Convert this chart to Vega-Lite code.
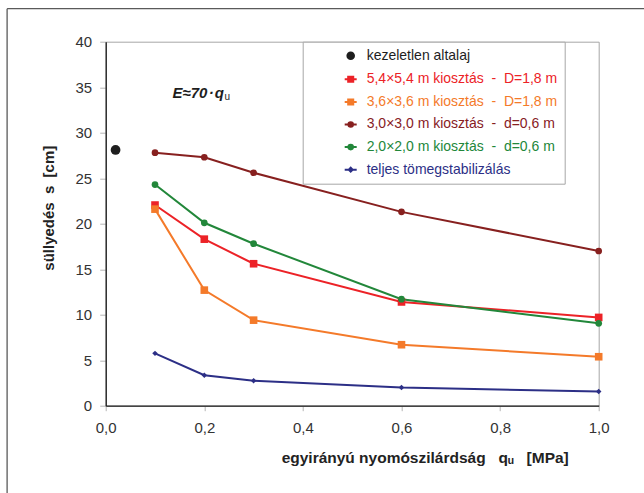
{
  "$schema": "https://vega.github.io/schema/vega-lite/v6.json",
  "width": 493,
  "height": 364,
  "autosize": {"type": "none"},
  "padding": {"left": 105.7, "top": 41.7, "right": 45.3, "bottom": 87},
  "background": "white",
  "config": {
    "font": "Liberation Sans",
    "view": {"stroke": "#a6a6a6", "strokeWidth": 1}
  },
  "layer": [
    {
      "data": {"values": [{}]},
      "mark": {"type": "rule", "color": "#5a5a5a", "strokeWidth": 1.3},
      "encoding": {
        "x": {"datum": -0.2, "type": "quantitative", "scale": {"domain": [0, 1]}},
        "y": {"datum": 43.63, "type": "quantitative", "scale": {"domain": [0, 40]}},
        "y2": {"datum": -12}
      }
    },
    {
      "data": {"values": [{}]},
      "mark": {"type": "rule", "color": "#5a5a5a", "strokeWidth": 1.3},
      "encoding": {
        "x": {"datum": -0.2, "type": "quantitative"},
        "x2": {"datum": 1.3},
        "y": {"datum": 43.63, "type": "quantitative"}
      }
    },
    {
      "data": {
        "values": [
          {"series": "kezeletlen altalaj", "q": 0.02, "s": 28.1},
          {"series": "5,4×5,4 m kiosztás \u00a0-\u00a0 D=1,8 m", "q": 0.1, "s": 22.05},
          {"series": "5,4×5,4 m kiosztás \u00a0-\u00a0 D=1,8 m", "q": 0.2, "s": 18.3},
          {"series": "5,4×5,4 m kiosztás \u00a0-\u00a0 D=1,8 m", "q": 0.3, "s": 15.6},
          {"series": "5,4×5,4 m kiosztás \u00a0-\u00a0 D=1,8 m", "q": 0.6, "s": 11.4},
          {"series": "5,4×5,4 m kiosztás \u00a0-\u00a0 D=1,8 m", "q": 1.0, "s": 9.7},
          {"series": "3,6×3,6 m kiosztás \u00a0-\u00a0 D=1,8 m", "q": 0.1, "s": 21.6},
          {"series": "3,6×3,6 m kiosztás \u00a0-\u00a0 D=1,8 m", "q": 0.2, "s": 12.7},
          {"series": "3,6×3,6 m kiosztás \u00a0-\u00a0 D=1,8 m", "q": 0.3, "s": 9.4},
          {"series": "3,6×3,6 m kiosztás \u00a0-\u00a0 D=1,8 m", "q": 0.6, "s": 6.7},
          {"series": "3,6×3,6 m kiosztás \u00a0-\u00a0 D=1,8 m", "q": 1.0, "s": 5.38},
          {"series": "3,0×3,0 m kiosztás \u00a0-\u00a0 d=0,6 m", "q": 0.1, "s": 27.8},
          {"series": "3,0×3,0 m kiosztás \u00a0-\u00a0 d=0,6 m", "q": 0.2, "s": 27.3},
          {"series": "3,0×3,0 m kiosztás \u00a0-\u00a0 d=0,6 m", "q": 0.3, "s": 25.6},
          {"series": "3,0×3,0 m kiosztás \u00a0-\u00a0 d=0,6 m", "q": 0.6, "s": 21.3},
          {"series": "3,0×3,0 m kiosztás \u00a0-\u00a0 d=0,6 m", "q": 1.0, "s": 17.0},
          {"series": "2,0×2,0 m kiosztás \u00a0-\u00a0 d=0,6 m", "q": 0.1, "s": 24.3},
          {"series": "2,0×2,0 m kiosztás \u00a0-\u00a0 d=0,6 m", "q": 0.2, "s": 20.1},
          {"series": "2,0×2,0 m kiosztás \u00a0-\u00a0 d=0,6 m", "q": 0.3, "s": 17.8},
          {"series": "2,0×2,0 m kiosztás \u00a0-\u00a0 d=0,6 m", "q": 0.6, "s": 11.7},
          {"series": "2,0×2,0 m kiosztás \u00a0-\u00a0 d=0,6 m", "q": 1.0, "s": 9.05},
          {"series": "teljes tömegstabilizálás", "q": 0.1, "s": 5.75},
          {"series": "teljes tömegstabilizálás", "q": 0.2, "s": 3.35},
          {"series": "teljes tömegstabilizálás", "q": 0.3, "s": 2.75},
          {"series": "teljes tömegstabilizálás", "q": 0.6, "s": 2.0},
          {"series": "teljes tömegstabilizálás", "q": 1.0, "s": 1.55}
        ]
      },
      "encoding": {
        "x": {
          "field": "q", "type": "quantitative",
          "scale": {"domain": [0, 1], "nice": false, "zero": true},
          "axis": {
            "values": [0, 0.2, 0.4, 0.6, 0.8, 1],
            "labelExpr": "replace(format(datum.value, '.1f'), '.', ',')",
            "labelFlush": false,
            "title": "egyirányú nyomószilárdság\u00a0\u00a0\u00a0qᵤ\u00a0\u00a0\u00a0[MPa]",
            "titleFontSize": 15.5, "titleFontWeight": "bold", "titleColor": "#222",
            "titleX": 319, "titleY": 57, "titleAlign": "center", "titleBaseline": "alphabetic",
            "gridColor": "#dadada", "gridWidth": 1,
            "domainColor": "#1a1a1a", "domainWidth": 1.3,
            "tickColor": "#b5b5b5", "tickSize": 5,
            "labelFontSize": 15, "labelColor": "#333", "labelPadding": 10,
            "labelFont": "Liberation Sans"
          }
        },
        "y": {
          "field": "s", "type": "quantitative",
          "scale": {"domain": [0, 40], "nice": false},
          "axis": {
            "values": [0, 5, 10, 15, 20, 25, 30, 35, 40],
            "labelFlush": false,
            "title": "süllyedés\u00a0\u00a0s\u00a0\u00a0[cm]",
            "titleFontSize": 15, "titleFontWeight": "bold", "titleColor": "#222",
            "titleX": -52, "titleY": 166, "titleAngle": -90, "titleAlign": "center", "titleBaseline": "alphabetic",
            "gridColor": "#dadada", "gridWidth": 1,
            "domainColor": "#1a1a1a", "domainWidth": 1.3,
            "tickColor": "#b5b5b5", "tickSize": 6,
            "labelFontSize": 15, "labelColor": "#333", "labelPadding": 8,
            "labelFont": "Liberation Sans"
          }
        },
        "color": {
          "field": "series", "type": "nominal",
          "scale": {
            "domain": [
              "kezeletlen altalaj",
              "5,4×5,4 m kiosztás \u00a0-\u00a0 D=1,8 m",
              "3,6×3,6 m kiosztás \u00a0-\u00a0 D=1,8 m",
              "3,0×3,0 m kiosztás \u00a0-\u00a0 d=0,6 m",
              "2,0×2,0 m kiosztás \u00a0-\u00a0 d=0,6 m",
              "teljes tömegstabilizálás"
            ],
            "range": ["#1e1e1e", "#ec2227", "#f47a2a", "#87201f", "#22873a", "#2c2f86"]
          },
          "legend": {
            "orient": "none",
            "legendX": 197,
            "legendY": 0,
            "title": null,
            "padding": 7,
            "fillColor": "white",
            "strokeColor": "#a6a6a6",
            "symbolSize": 144,
            "symbolOffset": 34,
            "labelOffset": 9,
            "rowPadding": 8.6,
            "labelFont": "Liberation Sans",
            "labelFontSize": 14,
            "labelLimit": 400,
            "labelExpr": "datum.label + '\u00a0\u00a0\u00a0\u00a0\u00a0\u00a0\u00a0\u00a0\u00a0'",
            "encode": {
              "symbols": {
                "update": {
                  "shape": {"signal": "datum.index === 0 ? 'M-0.55,0A0.55,0.55,0,1,1,0.55,0A0.55,0.55,0,1,1,-0.55,0Z' : (datum.index === 1 || datum.index === 2) ? 'M-1,0L1,0M-0.42,-0.42L0.42,-0.42L0.42,0.42L-0.42,0.42Z' : datum.index === 5 ? 'M-1,0L1,0M-0.32,0L0,-0.32L0.32,0L0,0.32Z' : 'M-1,0L1,0M-0.38,0A0.38,0.38,0,1,1,0.38,0A0.38,0.38,0,1,1,-0.38,0Z'"},
                  "fill": {"signal": "scale('color', datum.value)"},
                  "stroke": {"signal": "scale('color', datum.value)"},
                  "strokeWidth": {"value": 2},
                  "opacity": {"value": 1}
                }
              },
              "labels": {
                "update": {
                  "fill": {"signal": "scale('color', datum.value)"}
                }
              }
            }
          }
        }
      },
      "layer": [
        {
          "transform": [{"filter": "datum.series !== 'kezeletlen altalaj'"}],
          "mark": {"type": "line", "strokeWidth": 2}
        },
        {
          "transform": [{"filter": "datum.series === 'kezeletlen altalaj'"}],
          "mark": {"type": "point", "filled": true, "opacity": 1, "shape": "circle", "size": 95}
        },
        {
          "transform": [{"filter": "indexof(datum.series, 'D=1,8') >= 0"}],
          "mark": {"type": "point", "filled": true, "opacity": 1, "shape": "square", "size": 58}
        },
        {
          "transform": [{"filter": "indexof(datum.series, 'd=0,6') >= 0"}],
          "mark": {"type": "point", "filled": true, "opacity": 1, "shape": "circle", "size": 45}
        },
        {
          "transform": [{"filter": "datum.series === 'teljes tömegstabilizálás'"}],
          "mark": {"type": "point", "filled": true, "opacity": 1, "shape": "diamond", "size": 30}
        }
      ]
    },
    {
      "data": {"values": [{"label": "E≈70\u200a·\u200aq"}]},
      "mark": {"type": "text", "font": "Liberation Sans", "fontSize": 15, "fontWeight": "bold", "fontStyle": "italic", "align": "right", "baseline": "alphabetic", "color": "#1e1e1e"},
      "encoding": {
        "text": {"field": "label"},
        "x": {"datum": 0.24, "type": "quantitative"},
        "y": {"datum": 33.8, "type": "quantitative"}
      }
    },
    {
      "data": {"values": [{"label": "u"}]},
      "mark": {"type": "text", "font": "Liberation Sans", "fontSize": 10, "align": "left", "baseline": "alphabetic", "color": "#1e1e1e"},
      "encoding": {
        "text": {"field": "label"},
        "x": {"datum": 0.241, "type": "quantitative"},
        "y": {"datum": 33.6, "type": "quantitative"}
      }
    }
  ]
}
